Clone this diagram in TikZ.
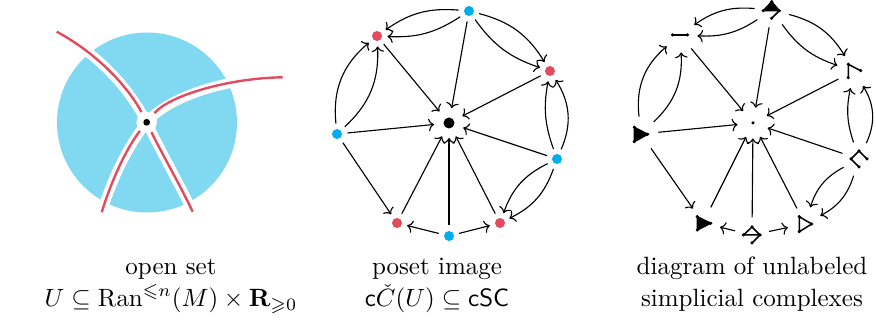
\documentclass[tikz,border=0pt]{standalone}
\usepackage{amssymb}
\usetikzlibrary{arrows.meta}
\definecolor{cblue}{RGB}{0,174,239}
\definecolor{cred}{RGB}{226,74,94}
\definecolor{cdisk}{RGB}{128,216,241}
\begin{document}
\begin{tikzpicture}[x=0.4pt,y=-0.4pt,
  bn/.style={circle,fill=cblue,inner sep=0pt,minimum size=4pt,outer sep=2.2pt},
  rn/.style={circle,fill=cred,inner sep=0pt,minimum size=4pt,outer sep=2.2pt},
  cn/.style={circle,fill=black,inner sep=0pt,minimum size=4.4pt,outer sep=3.8pt},
  sn/.style={circle,inner sep=0pt,minimum size=13.6pt},
  scn/.style={circle,inner sep=0pt,minimum size=12pt},
  arr/.style={-{To[length=2.2pt,width=5pt]},line width=0.45pt},
  sk/.style={line width=0.6pt},
  vd/.style={fill=black},
  halo/.style={white,line width=4pt},
  redc/.style={cred,line width=0.95pt},
  lbl/.style={anchor=base,inner sep=0pt}]
\useasboundingbox (0,0) rectangle (876,325);

% ---------- left: open set ----------
\fill[cdisk] (147,122.5) circle[radius=36pt];
\coordinate (o) at (146.7,122.3);
\coordinate (a1) at (56.7,31.7);
\coordinate (a2) at (192.7,211.7);
\coordinate (b1) at (282.7,77.3);
\coordinate (b2) at (101.7,212.3);
\draw[halo] (a1) .. controls (100,55) and (130,90) .. (o)
   .. controls (160,150) and (180,185) .. (a2);
\draw[halo] (b1) .. controls (230,78) and (170,95) .. (o)
   .. controls (125,150) and (110,185) .. (b2);
\fill[white] (o) circle[radius=4.1pt];
\draw[redc,shorten >=4.6pt] (a1) .. controls (100,55) and (130,90) .. (o);
\draw[redc,shorten <=4.4pt] (o) .. controls (160,150) and (180,185) .. (a2);
\draw[redc,shorten >=4.8pt] (b1) .. controls (230,78) and (170,95) .. (o);
\draw[redc,shorten <=4.4pt] (o) .. controls (125,150) and (110,185) .. (b2);
\node[circle,fill=black,inner sep=0pt,minimum size=2.7pt] (pt) at (o) {};

% ---------- middle: poset image ----------
\node[bn] (mT) at (469,11) {};
\node[rn] (mTL) at (377,36) {};
\node[rn] (mR) at (550,71) {};
\node[bn] (mL) at (337,134) {};
\node[cn] (mC) at (449,123) {};
\node[bn] (mRB) at (557,159) {};
\node[rn] (mBL) at (397,223) {};
\node[bn] (mB) at (449,236) {};
\node[rn] (mBR) at (500,223) {};

\draw[arr] (mT) to[bend right=20] (mTL);
\draw[arr] (mT) to[bend left=18] (mTL);
\draw[arr] (mT) to[bend left=22] (mR);
\draw[arr] (mT) to[bend right=18] (mR);
\draw[arr] (mL) to[bend left=28] (mTL);
\draw[arr] (mL) to[bend right=25] (mTL);
\draw[arr] (mRB) to[bend right=28] (mR);
\draw[arr] (mRB) to[bend left=15] (mR);
\draw[arr] (mRB) to[bend left=22] (mBR);
\draw[arr] (mRB) to[bend right=22] (mBR);
\foreach \s in {mT,mTL,mR,mL,mRB,mBL,mB,mBR} \draw[arr] (\s) -- (mC);
\draw[arr] (mL) -- (mBL);
\draw[arr] (mB) -- (mBL);
\draw[arr] (mB) -- (mBR);

% ---------- right: simplicial complexes ----------
\node[sn] (sT) at (772,10) {};
\node[sn] (sTL) at (680,35) {};
\node[sn] (sR) at (854,71) {};
\node[sn] (sL) at (641,134) {};
\node[scn] (sC) at (753,123) {};
\node[sn] (sRB) at (859,159) {};
\node[sn] (sBL) at (703,223) {};
\node[sn] (sB) at (752,235) {};
\node[sn] (sBR) at (805,224) {};

\begin{scope}[shift={(sT)}]
  \fill (-8.7,0.7) -- (7.3,0.7) -- (-0.3,-8.3) -- cycle;
  \draw[sk] (-8.7,0.7) -- (7.3,0.7) -- (-0.3,-8.3) -- cycle;
  \draw[sk] (7.3,0.7) -- (-0.3,8.3);
  \foreach \p in {(-8.7,0.7),(7.3,0.7),(-0.3,-8.3),(-0.3,8.3)} \fill[vd] \p circle[radius=0.7pt];
\end{scope}
\begin{scope}[shift={(sTL)}]
  \draw[sk] (-7.5,0) -- (7.5,0);
  \foreach \p in {(-7.5,0),(7.5,0)} \fill[vd] \p circle[radius=0.7pt];
\end{scope}
\begin{scope}[shift={(sR)}]
  \draw[sk] (-5.7,6.7) -- (-5.7,-6.7) -- (6.7,-0.3);
  \foreach \p in {(-5.7,6.7),(-5.7,-6.7),(6.7,-0.3)} \fill[vd] \p circle[radius=0.7pt];
\end{scope}
\begin{scope}[shift={(sL)}]
  \fill (-6.7,-6.7) -- (-6.7,7.7) -- (6.7,0.3) -- cycle;
  \draw[sk] (-6.7,-6.7) -- (-6.7,7.7) -- (6.7,0.3) -- cycle;
  \foreach \p in {(-6.7,-6.7),(-6.7,7.7),(6.7,0.3)} \fill[vd] \p circle[radius=0.7pt];
\end{scope}
\fill[vd] (sC) circle[radius=0.7pt];
\begin{scope}[shift={(sRB)}]
  \draw[sk] (8,0) -- (0,-8) -- (-8,0) -- (0,8);
  \foreach \p in {(0,-8),(-8,0),(8,0),(0,8)} \fill[vd] \p circle[radius=0.7pt];
\end{scope}
\begin{scope}[shift={(sBL)}]
  \fill (-5.7,-6.3) -- (-5.7,7) -- (7.7,0.3) -- cycle;
  \draw[sk] (-5.7,-6.3) -- (-5.7,7) -- (7.7,0.3) -- cycle;
  \foreach \p in {(-5.7,-6.3),(-5.7,7),(7.7,0.3)} \fill[vd] \p circle[radius=0.7pt];
\end{scope}
\begin{scope}[shift={(sB)}]
  \draw[sk] (0,-8) -- (-8.5,0) -- (8,0) -- cycle;
  \draw[sk] (8,0) -- (0,8);
  \foreach \p in {(0,-8),(-8.5,0),(8,0),(0,8)} \fill[vd] \p circle[radius=0.7pt];
\end{scope}
\begin{scope}[shift={(sBR)}]
  \draw[sk] (-5.7,-7.3) -- (-5.7,7.7) -- (6.7,0) -- cycle;
  \foreach \p in {(-5.7,-7.3),(-5.7,7.7),(6.7,0)} \fill[vd] \p circle[radius=0.7pt];
\end{scope}

\draw[arr] (sT) to[bend right=20] (sTL);
\draw[arr] (sT) to[bend left=18] (sTL);
\draw[arr] (sT) to[bend left=22] (sR);
\draw[arr] (sT) to[bend right=18] (sR);
\draw[arr] (sL) to[bend left=28] (sTL);
\draw[arr] (sL) to[bend right=25] (sTL);
\draw[arr] (sRB) to[bend right=28] (sR);
\draw[arr] (sRB) to[bend left=15] (sR);
\draw[arr] (sRB) to[bend left=22] (sBR);
\draw[arr] (sRB) to[bend right=22] (sBR);
\foreach \s in {sT,sTL,sR,sL,sRB,sBL,sB,sBR} \draw[arr] (\s) -- (sC);
\draw[arr] (sL) -- (sBL);
\draw[arr] (sB) -- (sBL);
\draw[arr] (sB) -- (sBR);

% ---------- labels ----------
\node[lbl] (l1a) at (171,275) {open set};
\node[lbl] (l1b) at (171,307) {$U\subseteq \mathrm{Ran}^{\leqslant n}(M)\times\mathbf{R}_{\geqslant 0}$};
\node[lbl] (l2a) at (437,275) {poset image};
\node[lbl] (l2b) at (437,307) {$\mathsf{c}\check{C}(U)\subseteq\mathsf{cSC}$};
\node[lbl] (l3a) at (752,275) {diagram of unlabeled};
\node[lbl] (l3b) at (752,307) {simplicial complexes};
\end{tikzpicture}
\end{document}
